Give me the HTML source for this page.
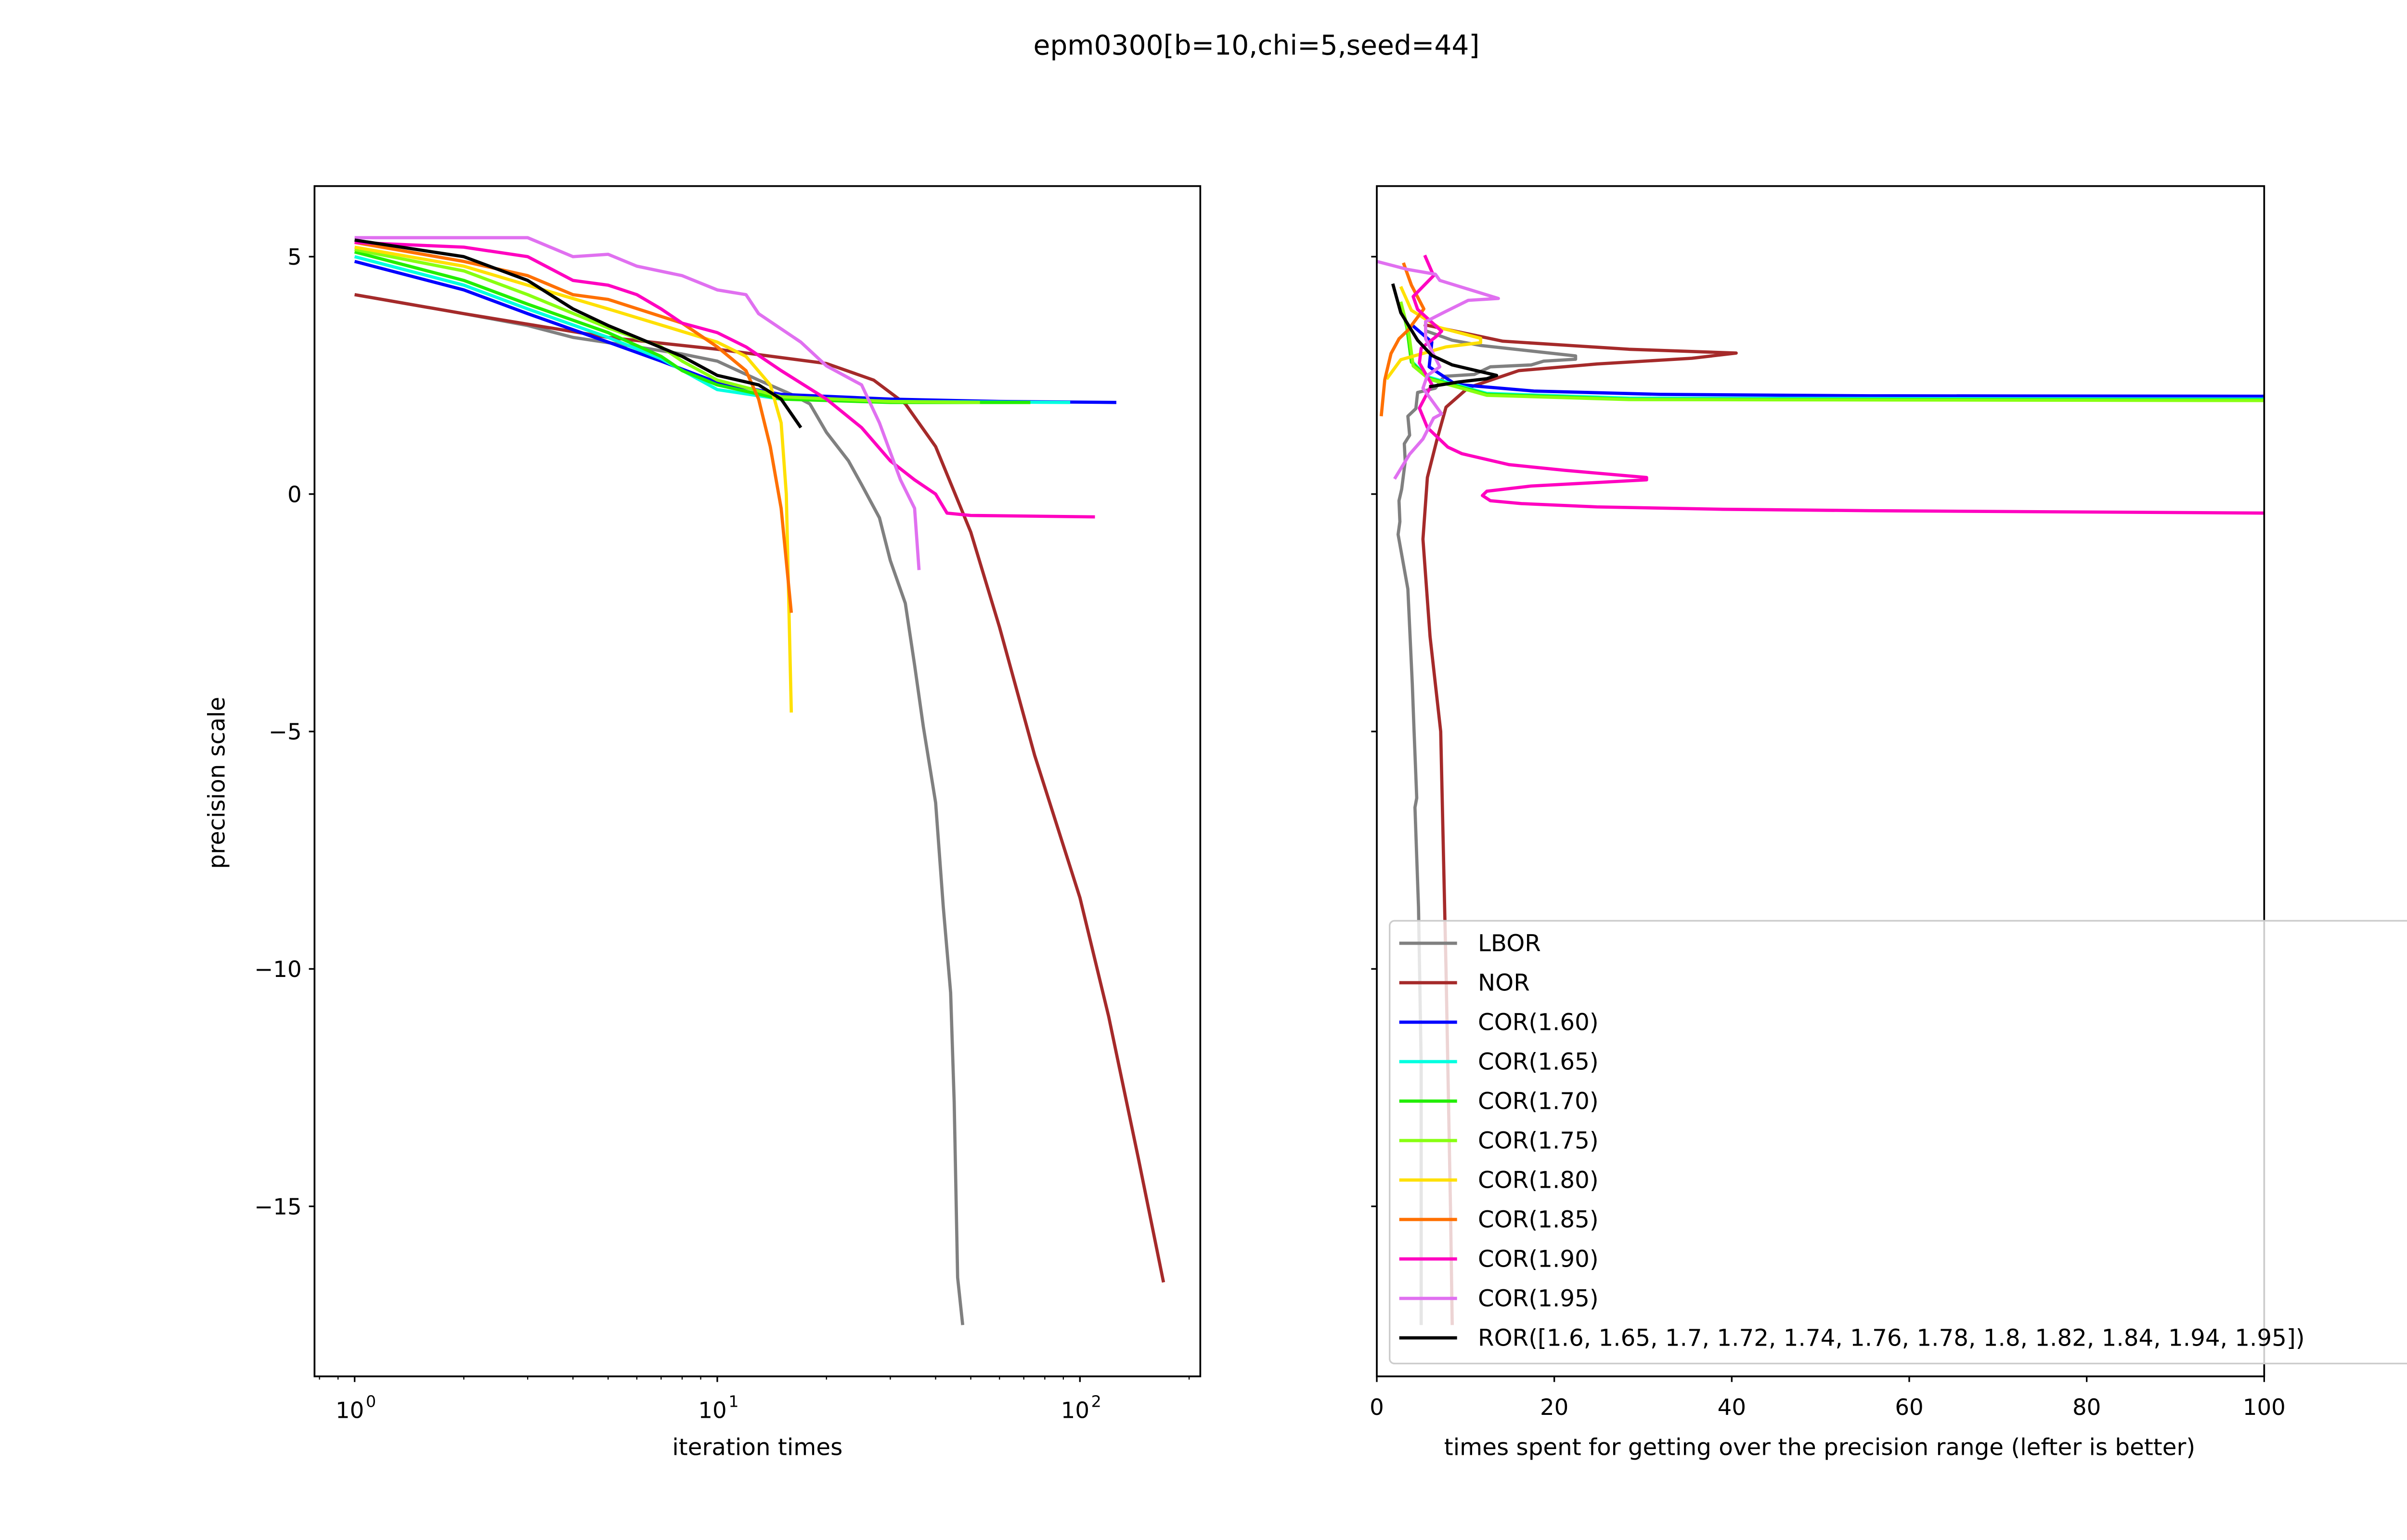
<!DOCTYPE html>
<html><head><meta charset="utf-8"><style>
html,body{margin:0;padding:0;background:#fff;}
svg{display:block;font-family:"DejaVu Sans","Liberation Sans",sans-serif;}
</style></head><body>
<svg id="chart" width="5200" height="3200" viewBox="0 0 1560 960" xmlns="http://www.w3.org/2000/svg">
<rect x="0" y="0" width="1560" height="960" fill="#fff"/>
<text x="783" y="34" font-size="17" text-anchor="middle">epm0300[b=10,chi=5,seed=44]</text>
<defs>
<clipPath id="clipL"><rect x="196" y="116" width="552" height="742"/></clipPath>
<clipPath id="clipR"><rect x="858" y="116" width="553" height="742"/></clipPath>
</defs>
<g id="left"></g>
<g id="right"></g>
<g id="legend"></g>
</svg>
<script>
const seriesNames = ["LBOR","NOR","COR(1.60)","COR(1.65)","COR(1.70)","COR(1.75)","COR(1.80)","COR(1.85)","COR(1.90)","COR(1.95)","ROR([1.6, 1.65, 1.7, 1.72, 1.74, 1.76, 1.78, 1.8, 1.82, 1.84, 1.94, 1.95])"];
const seriesColors = ["#808080","#a52a2a","#0000ff","#00ffe0","#22ee00","#88ff11","#ffe000","#ff7000","#ff00c0","#e070f0","#000000"];
const yTicks = [5,0,-5,-10,-15];
const yTickLabels = ["5","0","\u22125","\u221210","\u221215"];
const xTicksLeft = [1,10,100];
const xTicksRight = [0,20,40,60,80,100];
// left: [iterations, precision]
const leftLBOR = [[1,4.2],[2,3.8],[3,3.55],[4,3.3],[6,3.1],[8,2.95],[10,2.8],[13,2.4],[16,2.1],[18,1.9],[20,1.3],[23,0.7],[25,0.2],[28,-0.5],[30,-1.4],[33,-2.3],[35,-3.6],[37,-4.9],[40,-6.5],[42,-8.7],[44,-10.5],[45,-12.8],[46,-16.5],[47.5,-17.5]];
const leftNOR = [[1,4.2],[2,3.8],[5,3.3],[10,3.05],[20,2.75],[27,2.4],[33,1.9],[40,1.0],[50,-0.8],[60,-2.8],[75,-5.5],[100,-8.5],[120,-11],[145,-14],[170,-16.6]];
const left160 = [[1,4.9],[2,4.3],[3,3.8],[5,3.2],[7,2.8],[10,2.35],[15,2.1],[30,2.0],[60,1.95],[126,1.93]];
const left165 = [[1,5.0],[2,4.4],[3,3.9],[5,3.3],[7,2.85],[10,2.2],[15,2.0],[30,1.95],[94,1.93]];
const left170 = [[1,5.1],[2,4.5],[3,4.0],[5,3.4],[7,2.9],[8,2.6],[10,2.3],[15,2.0],[30,1.93],[73,1.93]];
const left175 = [[1,5.15],[2,4.7],[3,4.2],[5,3.5],[7,3.1],[8,2.8],[10,2.4],[15,2.05],[30,1.95],[53,1.93]];
const left180 = [[1,5.2],[2,4.8],[3,4.4],[5,3.9],[10,3.2],[12,2.9],[14,2.3],[15,1.5],[15.5,0],[16,-4.6]];
const left185 = [[1,5.3],[2,4.9],[3,4.6],[4,4.2],[5,4.1],[8,3.6],[10,3.1],[12,2.6],[13,2.0],[14,1.0],[15,-0.3],[16,-2.5]];
const left190 = [[1,5.3],[2,5.2],[3,5.0],[4,4.5],[5,4.4],[6,4.2],[7,3.9],[8,3.6],[10,3.4],[12,3.1],[15,2.6],[20,2.0],[25,1.4],[30,0.7],[35,0.3],[40,0.0],[43,-0.4],[50,-0.45],[110,-0.48]];
const left195 = [[1,5.4],[3,5.4],[4,5.0],[5,5.05],[6,4.8],[8,4.6],[10,4.3],[12,4.2],[13,3.8],[17,3.2],[20,2.7],[25,2.3],[28,1.5],[32,0.3],[35,-0.3],[36,-1.6]];
const leftROR = [[1,5.35],[2,5.0],[3,4.5],[4,3.9],[5,3.55],[6,3.3],[8,2.9],[10,2.5],[13,2.3],[15,2.0],[17,1.4]];
// right: [time, precision]
const rightLBOR = [[5.5,3.44],[8.5,3.24],[11.7,3.13],[22.4,2.91],[22.4,2.84],[18.8,2.8],[17.4,2.72],[12.8,2.68],[11,2.52],[7.6,2.48],[6.6,2.23],[4.6,2.14],[4.4,1.8],[3.5,1.64],[3.7,1.24],[3.1,1.06],[3.2,0.69],[2.8,0.1],[2.5,-0.14],[2.6,-0.58],[2.4,-0.85],[3.5,-2],[4,-4],[4.2,-5],[4.5,-6.4],[4.3,-6.6],[4.7,-8.7],[5,-12],[5,-17.5]];
const rightNOR = [[5.3,3.57],[14.2,3.22],[28.4,3.05],[40.5,2.97],[35.5,2.86],[24.8,2.74],[16,2.6],[10.3,2.24],[7.8,1.83],[6.8,1.16],[5.7,0.35],[5.2,-0.95],[6,-3],[7.2,-5],[7.8,-10],[8.3,-15],[8.5,-17.5]];
const right160 = [[3.9,3.57],[6.2,3.2],[5.9,2.68],[8.9,2.31],[17.7,2.17],[31.9,2.1],[55.6,2.07],[100,2.06]];
const right165 = [[3.4,3.5],[3.9,2.8],[5.7,2.47],[12.4,2.12],[28.4,2.02],[100,2.0]];
const right170 = [[2.7,4.05],[3.4,3.5],[3.9,2.78],[5.7,2.45],[12.4,2.1],[28.4,2.0],[100,1.98]];
const right175 = [[2.7,4.05],[3.6,3.4],[4.1,2.7],[5.9,2.42],[12.4,2.08],[28.4,1.99],[100,1.97]];
const right180 = [[2.7,4.37],[3.9,3.87],[7,3.51],[11.7,3.28],[11.7,3.19],[7.8,3.1],[2.7,2.83],[1.1,2.42]];
const right185 = [[3.0,4.87],[3.9,4.4],[5.3,3.9],[3.5,3.45],[2.5,3.27],[1.6,2.96],[0.9,2.41],[0.5,1.64]];
const right190 = [[5.4,5.03],[6.4,4.6],[4.1,4.16],[4.6,3.89],[7.3,3.43],[6.7,3.32],[5.0,3.07],[4.8,2.76],[6.2,2.31],[4.8,1.81],[5.7,1.4],[8.0,0.99],[9.6,0.85],[14.9,0.62],[21.2,0.5],[30.4,0.35],[30.4,0.3],[17.4,0.17],[12.4,0.06],[11.9,-0.03],[12.8,-0.14],[16.3,-0.2],[24.8,-0.27],[39,-0.32],[55.6,-0.35],[100,-0.4]];
const right195 = [[0,4.9],[3.5,4.73],[6.6,4.63],[7.1,4.5],[13.7,4.12],[10.3,4.08],[7.6,3.83],[5.5,3.63],[5.5,3.27],[7.1,2.68],[5.7,2.5],[5.2,2.23],[6.6,1.87],[7.3,1.69],[6.4,1.6],[5.2,1.16],[3.7,0.84],[2.0,0.32]];
const rightROR = [[1.8,4.43],[2.7,3.82],[4.6,3.24],[6.2,2.92],[8.5,2.72],[13.5,2.5],[12.4,2.43],[9.2,2.36],[5.9,2.26]];

const leftData = [leftLBOR,leftNOR,left160,left165,left170,left175,left180,left185,left190,left195,leftROR];
const rightData = [rightLBOR,rightNOR,right160,right165,right170,right175,right180,right185,right190,right195,rightROR];

const NS="http://www.w3.org/2000/svg";
function mk(tag, attrs, parent){const e=document.createElementNS(NS,tag);for(const k in attrs)e.setAttribute(k,attrs[k]);parent.appendChild(e);return e;}
const T=116,B=858;
const yScale=v=>308-v*29.6;
const xLog=v=>221+Math.log10(v)*226;
const xLin=v=>858+v*5.53;

function axesFrame(g,x0,x1,name){
  const r=mk('rect',{x:x0,y:T,width:x1-x0,height:B-T,fill:'none',stroke:'#000','stroke-width':1.1},g);
  
  
}
const L=document.getElementById('left'), R=document.getElementById('right');

function drawLines(g,data,xf,clip,prefix){
  const gg=mk('g',{'clip-path':'url(#'+clip+')'},g);
  data.forEach((s,i)=>{
    const d=s.map((p,j)=>(j?'L':'M')+xf(p[0]).toFixed(2)+' '+yScale(p[1]).toFixed(2)).join(' ');
    const p=mk('path',{d:d,fill:'none',stroke:seriesColors[i],'stroke-width':2,'stroke-linejoin':'round'},gg);
    
    
  });
}
drawLines(L,leftData,xLog,'clipL','left');
drawLines(R,rightData,xLin,'clipR','right');
axesFrame(L,196,748,'left-axes');
axesFrame(R,858,1411,'right-axes');

// y ticks
yTicks.forEach((v,i)=>{
  const y=yScale(v);
  mk('line',{x1:192.5,x2:196,y1:y,y2:y,stroke:'#000','stroke-width':1},L);
  const t=mk('text',{x:188,y:y+5,'font-size':14,'text-anchor':'end'},L);
  t.textContent=yTickLabels[i];
  
  
  mk('line',{x1:854.5,x2:858,y1:y,y2:y,stroke:'#000','stroke-width':1},R);
});
// left x ticks (log)
for(let dec=0;dec<3;dec++){for(let m=1;m<10;m++){const v=m*Math.pow(10,dec);const x=xLog(v);if(x<196||x>748)continue;
  mk('line',{x1:x,x2:x,y1:B,y2:B+(m===1?3.5:2),stroke:'#000','stroke-width':m===1?1:0.7},L);}}
[0.8,0.9].forEach(v=>{const x=xLog(v);if(x>=196)mk('line',{x1:x,x2:x,y1:B,y2:B+2,stroke:'#000','stroke-width':0.7},L);});
xTicksLeft.forEach((v,i)=>{
  const x=xLog(v);
  const t=mk('text',{x:x-3,y:B+26,'font-size':14,'text-anchor':'middle'},L);
  t.textContent='10';
  
  
  const s=mk('text',{x:x+7,y:B+19,'font-size':10},L);
  s.textContent=String(i);
  
  
});
xTicksRight.forEach(v=>{
  const x=xLin(v);
  mk('line',{x1:x,x2:x,y1:B,y2:B+3.5,stroke:'#000','stroke-width':1},R);
  const t=mk('text',{x:x,y:B+24,'font-size':14,'text-anchor':'middle'},R);
  t.textContent=String(v);
  
  
});
let t=mk('text',{x:472,y:907,'font-size':14.5,'text-anchor':'middle'},L);t.textContent='iteration times';


t=mk('text',{x:140,y:488,'font-size':14.5,'text-anchor':'middle',transform:'rotate(-90 140 488)'},L);t.textContent='precision scale';


t=mk('text',{x:1134,y:907,'font-size':14.5,'text-anchor':'middle'},R);t.textContent='times spent for getting over the precision range (lefter is better)';



// legend
const G=document.getElementById('legend');
mk('rect',{x:866,y:574,width:655,height:276,rx:3,fill:'#fff','fill-opacity':0.8,stroke:'#ccc','stroke-width':1},G);
seriesNames.forEach((n,i)=>{
  const y=588+i*24.6;
  const ln=mk('line',{x1:872,x2:908,y1:y,y2:y,stroke:seriesColors[i],'stroke-width':2},G);
  
  
  const tx=mk('text',{x:921,y:y+5,'font-size':14.5},G);
  tx.textContent=n;
  
  
});
</script>
</body></html>
